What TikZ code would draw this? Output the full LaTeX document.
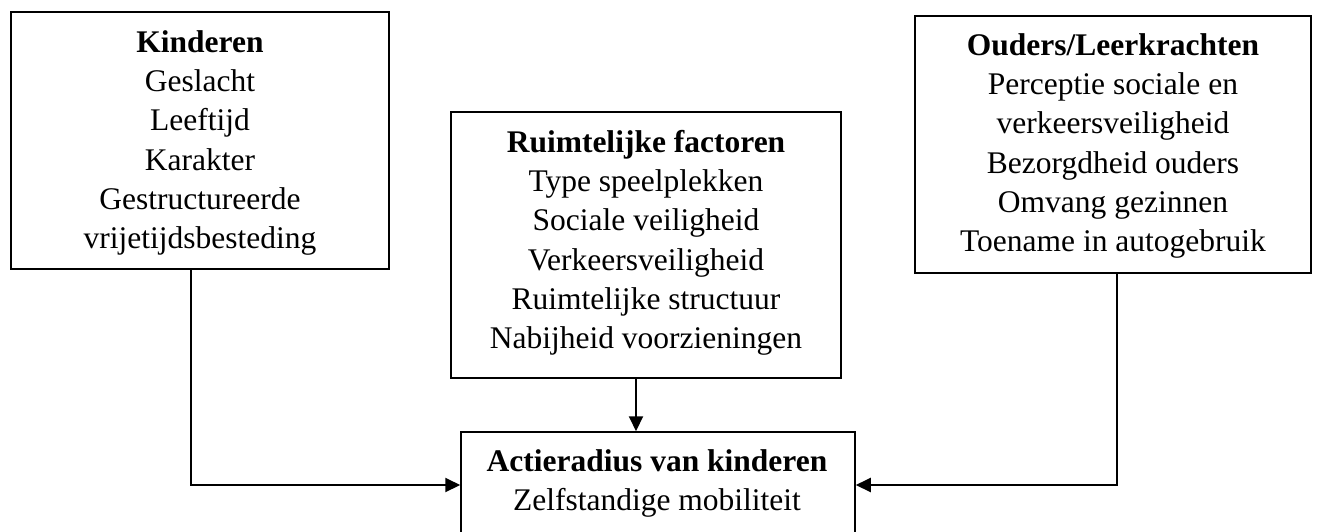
\documentclass[tikz,border=0pt]{standalone}
\usepackage{fontspec}
\setmainfont{Liberation Serif}
\usetikzlibrary{arrows.meta,calc}
\tikzset{
  box/.style={draw=black, line width=1.5pt, inner sep=0pt, rectangle},
  txt/.style={align=center, inner sep=0pt, anchor=north,
    font=\fontsize{31.5}{39.3}\selectfont},
  conn/.style={draw=black, line width=2pt, -{Triangle[length=15pt,width=14pt]}}
}
\begin{document}
\begin{tikzpicture}[x=1pt,y=-1pt]
\useasboundingbox (0,0) rectangle (1320,531);
% boxes
\node[box, minimum width=378pt, minimum height=257pt] (kids) at (200,140.5) {};
\node[box, minimum width=390pt, minimum height=266pt] (ruim) at (646,245) {};
\node[box, minimum width=396pt, minimum height=257pt] (ouders) at (1113,144.5) {};
\node[box, minimum width=394pt, minimum height=106pt] (act) at (658,485) {};
% texts
\node[txt] (kidsT) at (200,24.5) {\strut\textbf{Kinderen}\\Geslacht\\Leeftijd\\Karakter\\Gestructureerde\\vrijetijdsbesteding};
\node[txt] (ruimT) at (646,124.5) {\strut\textbf{Ruimtelijke factoren}\\Type speelplekken\\Sociale veiligheid\\Verkeersveiligheid\\Ruimtelijke structuur\\Nabijheid voorzieningen};
\node[txt] (oudersT) at (1113,27.5) {\strut\textbf{Ouders/Leerkrachten}\\Perceptie sociale en\\verkeersveiligheid\\Bezorgdheid ouders\\Omvang gezinnen\\Toename in autogebruik};
\node[txt] (actT) at (657,443.5) {\strut\textbf{Actieradius van kinderen}\\Zelfstandige mobiliteit};
% connectors
\draw[conn] ([xshift=-9pt]kids.south) |- (act.west);
\draw[conn] ([xshift=4pt]ouders.south) |- (act.east);
\draw[conn] ([xshift=-10pt]ruim.south) -- ([xshift=-10pt]ruim.south |- act.north);
\end{tikzpicture}
\end{document}
